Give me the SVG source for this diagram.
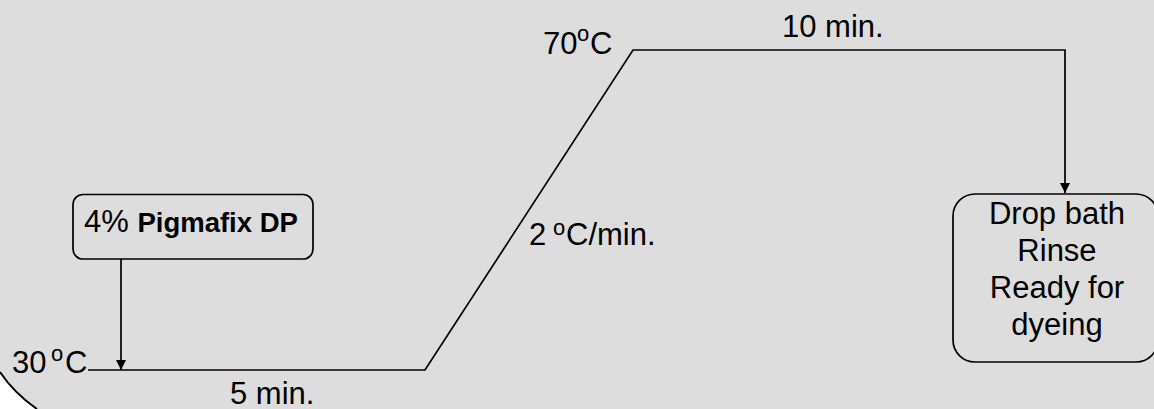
<svg xmlns="http://www.w3.org/2000/svg" width="1154" height="409" viewBox="0 0 1154 409">
<style>
.t{font-family:"Liberation Sans",Arial,sans-serif;font-size:31px;fill:#000}
.b{font-weight:bold;font-size:27.5px}
.s{font-size:22px}
.ln{fill:none;stroke:#000;stroke-width:1.7}
.nd{fill:#dddddd;stroke:#000;stroke-width:1.7}
</style>
<defs>
<marker id="ah" markerUnits="userSpaceOnUse" markerWidth="10" markerHeight="10" refX="10" refY="5" orient="auto">
<path d="M0,0 L10,5 L0,10 Z" fill="#000"/>
</marker>
</defs>
<rect x="0" y="0" width="1154" height="409" fill="#ffffff"/>
<path d="M0,0 H1154 V409 H37 Q14,393 0,372 Z" fill="#dddddd"/>
<path d="M0,372 Q14,393 37,409" fill="none" stroke="#000" stroke-width="2"/>
<g id="connectors">
<polyline class="ln" points="88,370 425,370 633,50 1065,50 1065,193" marker-end="url(#ah)"/>
<line class="ln" x1="121" y1="259" x2="121" y2="370" marker-end="url(#ah)"/>
</g>
<g id="node-pigmafix">
<rect class="nd" x="73" y="194.5" width="240" height="64.5" rx="10"/>
<text class="t" x="84" y="232">4% <tspan class="b">Pigmafix DP</tspan></text>
</g>
<g id="node-dropbath">
<rect class="nd" x="953" y="194" width="205" height="168" rx="22"/>
<text class="t" text-anchor="middle" x="1057" y="224">Drop bath</text>
<text class="t" text-anchor="middle" x="1057" y="261">Rinse</text>
<text class="t" text-anchor="middle" x="1057" y="298">Ready for</text>
<text class="t" text-anchor="middle" x="1057" y="335">dyeing</text>
</g>
<g id="labels">
<text class="t" x="12" y="373">30<tspan class="s" x="51" y="361">o</tspan><tspan x="65" y="373">C</tspan></text>
<text class="t" x="230" y="404">5 min.</text>
<text class="t" x="529" y="245">2<tspan class="s" x="553" y="234.5">o</tspan><tspan x="566" y="245">C/min.</tspan></text>
<text class="t" x="543" y="54">70<tspan class="s" x="577" y="40.5">o</tspan><tspan x="590" y="54">C</tspan></text>
<text class="t" x="782" y="37">10 min.</text>
</g>
</svg>
